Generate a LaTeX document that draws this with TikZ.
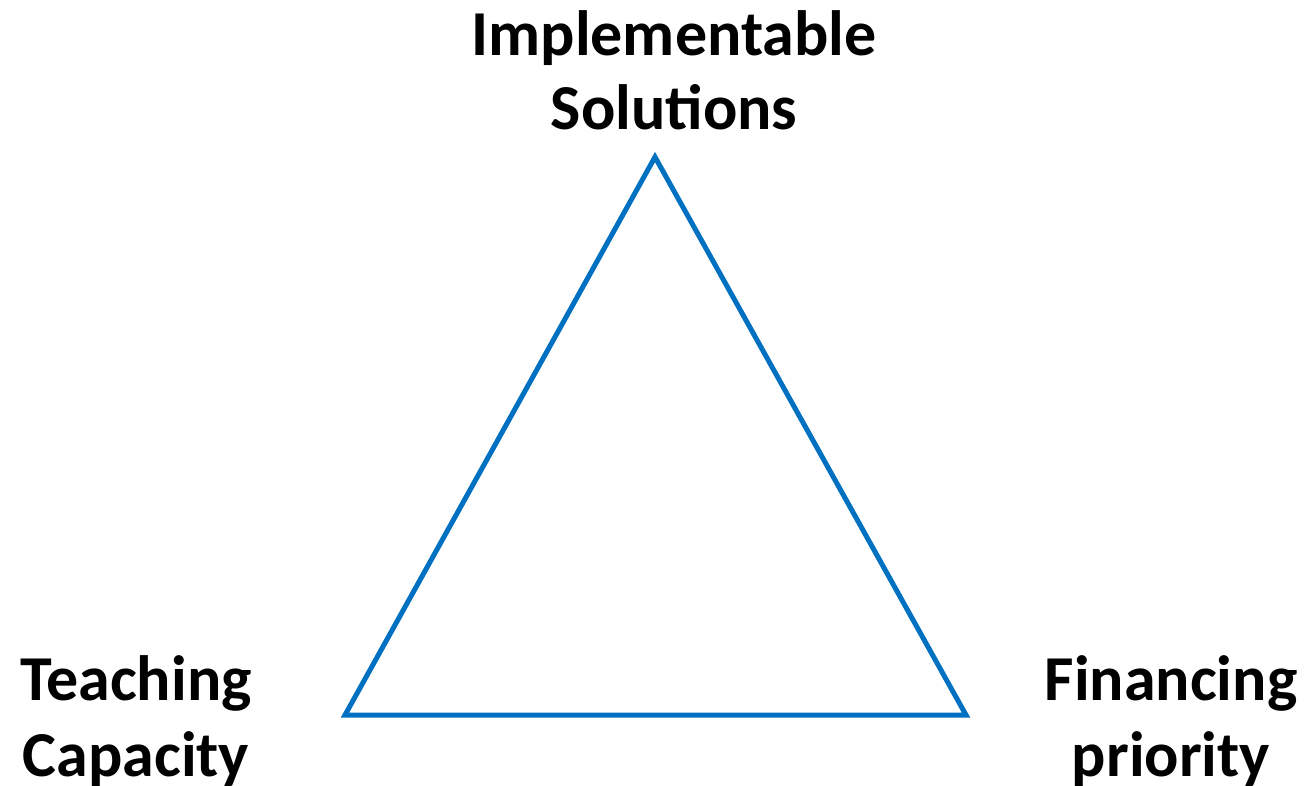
\documentclass[tikz,border=0pt]{standalone}
\usepackage{fontspec}
\setmainfont{Carlito}
\definecolor{triblue}{HTML}{0070C0}
\begin{document}
\begin{tikzpicture}[x=1pt,y=-1pt,
  lbl/.style={anchor=base,inner sep=0pt,font=\bfseries\fontsize{64}{75}\selectfont},
  edge/.style={draw=triblue,line width=5pt,line join=miter}]
\useasboundingbox (0,0) rectangle (1304,785);
\coordinate (A) at (655,157);
\coordinate (B) at (345,715);
\coordinate (C) at (966,715);
\draw[edge] (A) -- (B) -- (C) -- cycle;
\node[lbl] (t1) at (674,55) {Implementable};
\node[lbl] (t2) at (674,129) {Solutions};
\node[lbl] (l1) at (136,700) {Teaching};
\node[lbl] (l2) at (136,776) {Capacity};
\node[lbl] (r1) at (1171,700) {Financing};
\node[lbl] (r2) at (1171,776) {priority};
\end{tikzpicture}
\end{document}
